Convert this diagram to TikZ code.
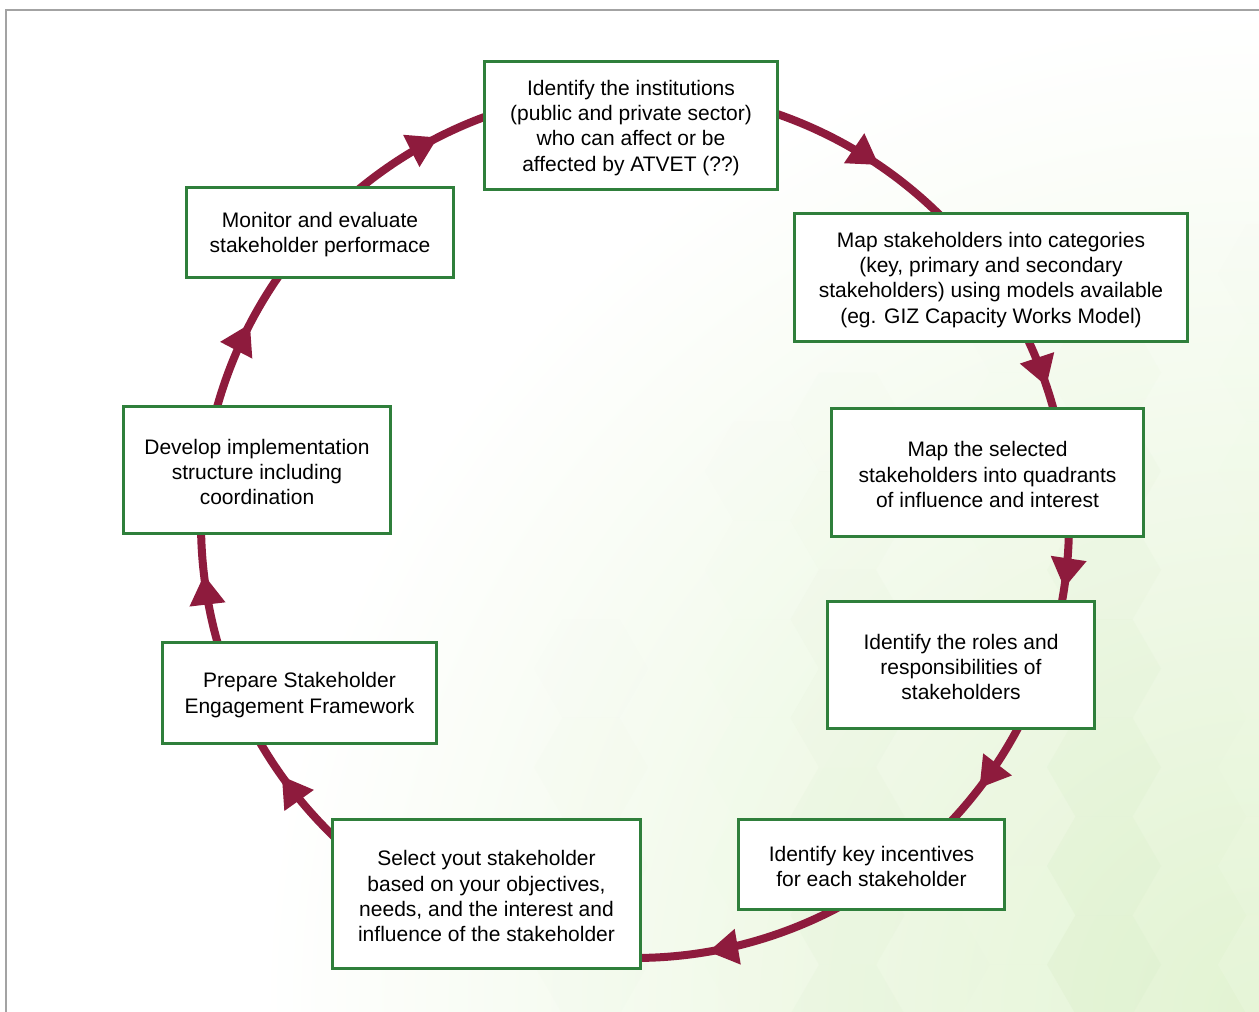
\documentclass[tikz,border=0pt]{standalone}
\usepackage{fontspec}
\setmainfont{Liberation Sans}
\usetikzlibrary{arrows.meta,decorations.markings}
\definecolor{boxgreen}{HTML}{2F7F3B}
\definecolor{cyclered}{HTML}{8E1B3D}
\definecolor{framegray}{HTML}{A3A3A3}
\definecolor{tint}{HTML}{E2F3D2}
\definecolor{hexlight}{HTML}{F1FBE6}
\definecolor{hexdark}{HTML}{D8EDC8}
% taller first line, so the text block sits a little lower in its box
\newcommand{\firststrut}{\rule{0pt}{19.5pt}}

\begin{document}
\begin{tikzpicture}[x=1pt,y=1pt,
  stagebox/.style={draw=boxgreen, line width=3pt, fill=white, align=center,
    inner sep=0pt, text=black, font=\fontsize{21}{25.3}\selectfont},
  cyc/.style={draw=cyclered, line width=8pt}]
\useasboundingbox (0,0) rectangle (1259,-1012);

% background: white page with a soft green honeycomb toward the lower right
\fill[white] (0,0) rectangle (1259,-1012);
\begin{scope}
  \clip (0,0) rectangle (1259,-1012);
  \shade[inner color=tint, outer color=white] (1259,-1012) circle (1000);
  \foreach \i in {0,...,9}{
    \foreach \j in {0,...,8}{
      \pgfmathsetmacro\hx{1104+85.5*(\i-6)}
      \pgfmathsetmacro\hy{866+98.7*(\j-6)+49.35*mod(\i,2)}
      \pgfmathsetmacro\dd{veclen(\hx-1259,\hy-1012)}
      \pgfmathsetmacro\op{max(0,1-\dd/800)*0.3}
      \pgfmathtruncatemacro\sid{mod(\i*2+\j*3,3)}
      \ifcase\sid
        \fill[hexdark, opacity=\op] (\hx,-\hy) +(0:57) -- +(60:57) -- +(120:57) -- +(180:57) -- +(240:57) -- +(300:57) -- cycle;
      \or
        \fill[hexlight, opacity=\op] (\hx,-\hy) +(0:57) -- +(60:57) -- +(120:57) -- +(180:57) -- +(240:57) -- +(300:57) -- cycle;
      \else
      \fi
    }
  }
\end{scope}

% frame lines
\draw[framegray, line width=2pt] (6,-1012) -- (6,-10) -- (1259,-10);

% the cycle: arcs of one circle, each with an arrowhead in its visible part
\coordinate (c) at (635,-524);
\foreach \sa/\ea/\tip in {90.6/34.7/55.8, 34.7/8.3/18.5, 8.3/-23.4/-8.5,
    -23.4/-55.2/-37.5, -55.2/-111.9/-80.3, -111.9/-153.3/-144.5,
    -153.3/-188.1/-173.3, 171.9/137.2/152.5, 137.2/90.6/117}{
  \pgfmathsetmacro\p{(\sa-(\tip))/(\sa-(\ea))}
  \draw[cyc, postaction={decorate}, decoration={markings,
      mark=at position \p with {\arrow{Triangle[length=30pt,width=34pt]}}}]
    (c) ++(\sa:434) arc[start angle=\sa, end angle=\ea, radius=434];
}

% stages
\node[stagebox, minimum width=293pt, minimum height=128pt] (n1) at (631,-125.5)
  {\firststrut Identify the institutions\\(public and private sector)\\who can affect or be\\affected by ATVET (??)};
\node[stagebox, minimum width=393pt, minimum height=128pt] (n2) at (991,-277.5)
  {\firststrut Map stakeholders into categories\\(key, primary and secondary\\stakeholders) using models available\\(eg. GIZ Capacity Works Model)};
\node[stagebox, minimum width=312pt, minimum height=128pt] (n3) at (987.5,-472.5)
  {\firststrut Map the selected\\stakeholders into quadrants\\of influence and interest};
\node[stagebox, minimum width=267pt, minimum height=127pt] (n4) at (961,-665)
  {\firststrut Identify the roles and\\responsibilities of\\stakeholders};
\node[stagebox, minimum width=266pt, minimum height=90pt] (n5) at (871.5,-864.5)
  {\firststrut Identify key incentives\\for each stakeholder};
\node[stagebox, minimum width=308pt, minimum height=149pt] (n6) at (486.5,-894)
  {\firststrut Select yout stakeholder\\based on your objectives,\\needs, and the interest and\\influence of the stakeholder};
\node[stagebox, minimum width=274pt, minimum height=101pt] (n7) at (299.5,-693)
  {\firststrut Prepare Stakeholder\\Engagement Framework};
\node[stagebox, minimum width=267pt, minimum height=127pt] (n8) at (257,-470)
  {\firststrut Develop implementation\\structure including\\coordination};
\node[stagebox, minimum width=267pt, minimum height=90pt] (n9) at (320,-232.5)
  {\firststrut Monitor and evaluate\\stakeholder performace};
\end{tikzpicture}
\end{document}
